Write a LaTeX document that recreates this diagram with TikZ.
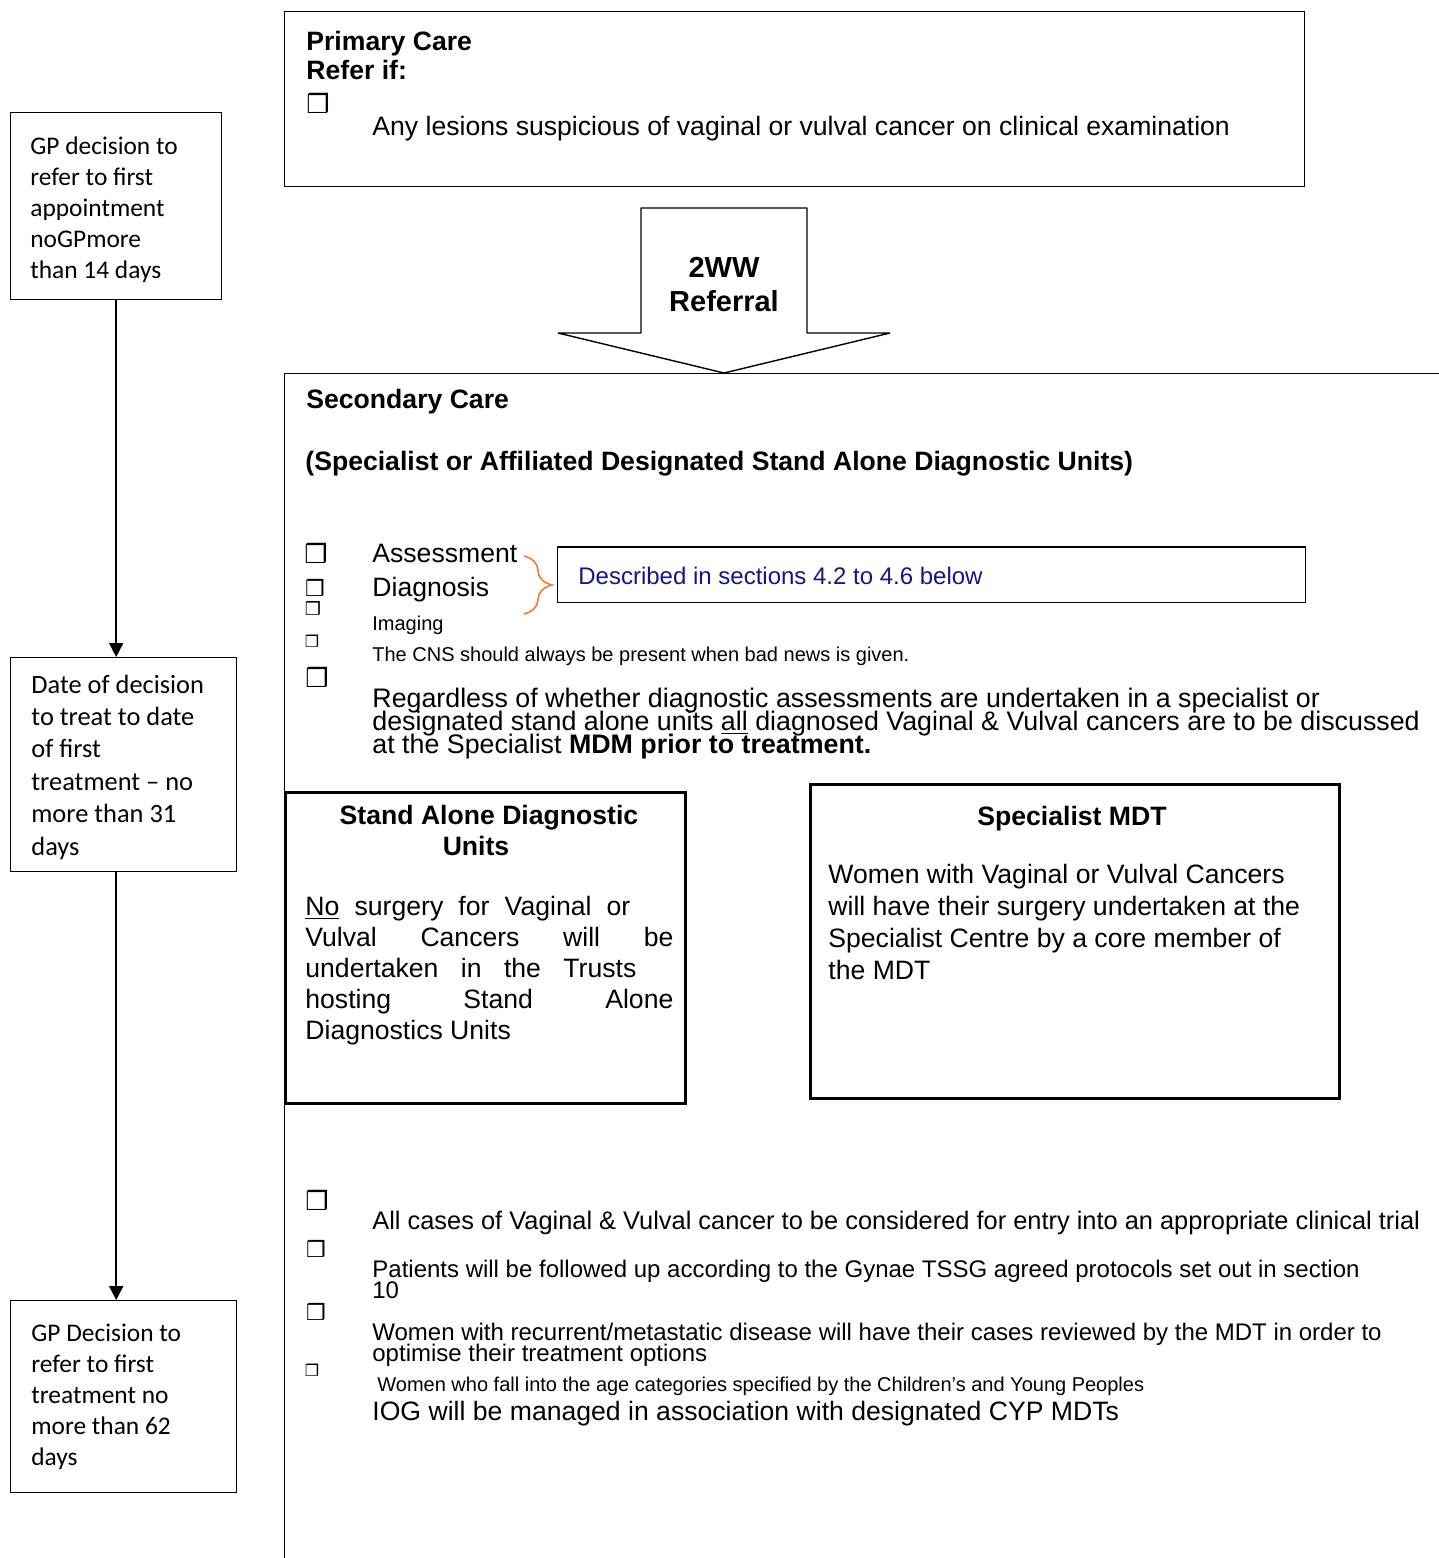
\documentclass[tikz,border=0pt]{standalone}
\usepackage{fontspec}
\setmainfont{Liberation Sans}
\newfontfamily\calibrifont{Carlito}
\newfontfamily\boxglyphfont{DejaVu Sans}
\usetikzlibrary{arrows.meta,positioning,decorations.pathreplacing}
\definecolor{navytext}   {RGB}{ 20, 20,140}
\definecolor{braceorange}{RGB}{237,125, 49}
\newcommand{\chkbox}[1]{{\boxglyphfont\fontsize{#1}{#1}\selectfont ❒}}
\newcommand{\bodysize}{\fontsize{13.3}{15.5}\selectfont}
\newcommand{\smallsize}{\fontsize{10}{12}\selectfont}
\newcommand{\tightsize}[2]{\fontsize{#1}{#2}\selectfont\lineskiplimit=-20pt}

\begin{document}
\begin{tikzpicture}[x=0.5pt, y=-0.5pt,
  every node/.style={inner sep=0pt},
  gpbox/.style={draw, line width=0.7pt, anchor=north west},
  gptext/.style={anchor=base west, align=left,
                 font=\calibrifont\fontsize{12.7}{15.5}\selectfont},
  mainbox/.style={draw, line width=0.7pt, anchor=north west},
  unitbox/.style={draw, line width=1.3pt, anchor=north west},
  txt/.style={anchor=base west, align=left, font=\bodysize},
  chk/.style={anchor=center},
  flowarrow/.style={-{Triangle[length=7pt,width=7pt]}, line width=1pt}]

\useasboundingbox (0,0) rectangle (1439,1558);

% left column: waiting times (nodes sit on the baseline of their last line)
\node[gpbox, minimum width=105.5pt, minimum height=93.5pt] (gpref) at (10,112) {};
\node[gptext] (gpreftext) at (30,278)
  {GP decision to\\refer to first\\appointment\\noGPmore\\than 14 days};
\node[gpbox, minimum width=113pt, minimum height=107pt] (dtt) at (10,657) {};
\node[gptext, font=\calibrifont\fontsize{13.2}{16.2}\selectfont] (dtttext) at (31,855)
  {Date of decision\\to treat to date\\of first\\treatment – no\\more than 31\\days};
\node[gpbox, minimum width=113pt, minimum height=96pt] (gptreat) at (10,1300) {};
\node[gptext] (gptreattext) at (31,1465)
  {GP Decision to\\refer to first\\treatment no\\more than 62\\days};

\draw[flowarrow] (gpref.south) -- (gpref.south |- dtt.north);
\draw[flowarrow] (gpref.south |- dtt.south) -- (gpref.south |- gptreat.north);

% primary care
\node[mainbox, minimum width=510pt, minimum height=87.5pt] (primary) at (284,11) {};
\node[txt, font=\fontsize{13.3}{14.5}\selectfont\bfseries] (primtitle) at (306,79)
  {Primary Care\\Refer if:};
\node[chk] (primchk) at (318,103) {\chkbox{13}};
\node[txt] (primtext) at (372,135)
  {Any lesions suspicious of vaginal or vulval cancer on clinical examination};

% 2WW referral arrow
\draw[line width=0.7pt, fill=white, line join=bevel]
  (641,208) -- (807,208) -- (807,333) -- (890,333) -- (724,373)
  -- (558,333) -- (641,333) -- cycle;
\node[align=center, font=\fontsize{14.5}{17}\selectfont\bfseries] (wwlabel) at (724,285)
  {2WW\\Referral};

% secondary care
\node[mainbox, minimum width=650pt, minimum height=700pt] (secondary) at (284,373) {};
\node[txt, font=\bodysize\bfseries] (sectitle) at (306,408) {Secondary Care};
\node[txt, font=\bodysize\bfseries] (secsub) at (305,470)
  {(Specialist or Affiliated Designated Stand Alone Diagnostic Units)};

\node[chk] (chkassess) at (316,553) {\chkbox{13}};
\node[chk] (chkdiag)   at (315,588) {\chkbox{11}};
\node[chk] (chkimg)    at (313,608) {\chkbox{9}};
\node[chk] (chkcns)    at (312,641) {\chkbox{8}};
\node[chk] (chkmdm)    at (317,677) {\chkbox{13}};

\node[txt] (assess) at (372,562) {Assessment};
\node[txt] (diag)   at (372,596) {Diagnosis};
\node[txt, font=\smallsize] (imaging) at (372,630) {Imaging};
\node[txt, font=\smallsize] (cns)     at (372,661)
  {The CNS should always be present when bad news is given.};
\node[txt, font=\tightsize{13.4}{11.5}] (mdm) at (372,753)
  {Regardless of whether diagnostic assessments are undertaken in a specialist or\\
   designated stand alone units \underline{all} diagnosed Vaginal \& Vulval cancers are to be discussed\\
   at the Specialist \textbf{MDM prior to treatment.}};

\node[draw, line width=0.7pt, anchor=north west, minimum width=374pt, minimum height=27.5pt]
  (described) at (557,547) {};
\draw[line width=1.4pt] (described.north west) -- (described.north east);
\node[txt, font=\fontsize{12}{14}\selectfont, text=navytext] (desctext) at (578,584)
  {Described in sections 4.2 to 4.6 below};
\draw[braceorange, line width=0.8pt, decorate, decoration={brace, amplitude=14pt}]
  (524,556) -- (524,614);

% stand alone units and specialist MDT
\node[unitbox, minimum width=200pt, minimum height=155.5pt] (standalone) at (284,791) {};
\node[align=center, anchor=base, font=\bodysize\bfseries] (sadtitle)
  at (489,855) {Stand Alone Diagnostic\\Units\hspace*{13pt}};
\node[txt, font=\fontsize{13.3}{15.5}\selectfont] (sadtext) at (305,1039)
  {\makebox[162.5pt][s]{\underline{No} surgery for Vaginal or}\\
   \makebox[184pt][s]{Vulval Cancers will be}\\
   \makebox[165.5pt][s]{undertaken in the Trusts}\\
   \makebox[184pt][s]{hosting Stand Alone}\\
   Diagnostics Units};

\node[unitbox, minimum width=264.5pt, minimum height=157pt] (mdt) at (809,783) {};
\node[anchor=base, font=\bodysize\bfseries] (mdttitle) at (1072,825) {Specialist MDT};
\node[txt, font=\fontsize{13.3}{16}\selectfont] (mdttext) at (828,979)
  {Women with Vaginal or Vulval Cancers\\
   will have their surgery undertaken at the\\
   Specialist Centre by a core member of\\
   the MDT};

% follow-up bullets
\node[chk] (chktrial)  at (317,1200) {\chkbox{13}};
\node[chk] (chkfollow) at (316,1249) {\chkbox{11}};
\node[chk] (chkrecur)  at (316,1312) {\chkbox{11}};
\node[chk] (chkcyp)    at (312,1370) {\chkbox{8}};

\node[txt, font=\fontsize{12.7}{14}\selectfont] (trial) at (372,1229)
  {All cases of Vaginal \& Vulval cancer to be considered for entry into an appropriate clinical trial};
\node[txt, font=\tightsize{12}{10.5}] (follow) at (372,1298)
  {Patients will be followed up according to the Gynae TSSG agreed protocols set out in section\\10};
\node[txt, font=\tightsize{12}{10.5}] (recur) at (372,1361)
  {Women with recurrent/metastatic disease will have their cases reviewed by the MDT in order to\\
   optimise their treatment options};
\node[txt, font=\smallsize] (cyp) at (377,1391)
  {Women who fall into the age categories specified by the Children’s and Young Peoples};
\node[txt, font=\fontsize{13.3}{15}\selectfont] (cypmdt) at (372,1420)
  {IOG will be managed in association with designated CYP MDTs};

\end{tikzpicture}
\end{document}
